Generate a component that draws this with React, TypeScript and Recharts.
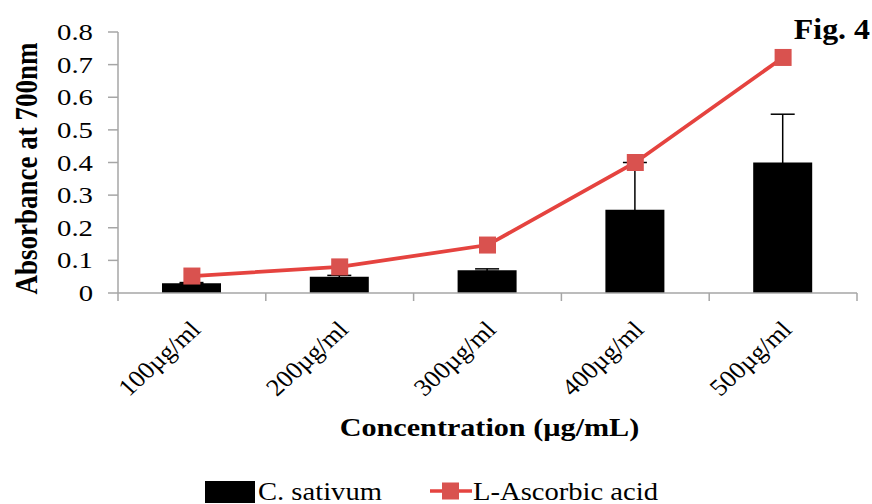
import React from 'react';
import { ComposedChart, Bar, Line, XAxis, YAxis, Legend, ErrorBar, Label, Customized } from 'recharts';

const concentrations = ['100µg/ml', '200µg/ml', '300µg/ml', '400µg/ml', '500µg/ml'];
const sativum = [0.03, 0.05, 0.07, 0.255, 0.4];
const sativumErr = [0.002, 0.004, 0.004, 0.145, 0.148];
const ascorbic = [0.052, 0.08, 0.147, 0.4, 0.722];
const yTicks = [0, 0.1, 0.2, 0.3, 0.4, 0.5, 0.6, 0.7, 0.8];

const data = concentrations.map((c, i) => ({
    conc: c,
    sativum: sativum[i],
    err: sativumErr[i],
    ascorbic: ascorbic[i],
}));

const W = 872;
const H = 504;
const MARGIN = { top: 32, right: 15, left: 0, bottom: 0 };
const Y_AXIS_W = 118;
const LEGEND_H = 30;
const X_AXIS_H = 181;
const BAND = (W - MARGIN.right - Y_AXIS_W) / concentrations.length;

const FONT = "'Liberation Serif', 'Times New Roman', serif";
const AXIS_GRAY = '#a6a6a6';
const LINE_RED = '#e5433f';
const MARKER_RED = '#d9524f';

// serif text with a horizontal stretch, the figure's type is noticeably wide
const SText = ({ x, y, size, bold = false, sx = 1, anchor = 'start', rotate = 0, children }: any) => (
    <text
        transform={`translate(${x},${y}) scale(${sx},1) rotate(${rotate})`}
        textAnchor={anchor}
        fontFamily={FONT}
        fontSize={size}
        fontWeight={bold ? 'bold' : 'normal'}
        fill="#000"
    >
        {children}
    </text>
);

const YTick = ({ x, y, payload }: any) => (
    <SText x={x - 13} y={y + 8} size={23} sx={1.25} anchor="end">
        {String(payload.value)}
    </SText>
);

// category ticks sit on the band edges, labels are slanted
const XTick = ({ x, y, payload, index }: any) => {
    const left = x - BAND / 2;
    const right = x + BAND / 2;
    return (
        <g>
            <line x1={left} x2={left} y1={y} y2={y + 8} stroke={AXIS_GRAY} strokeWidth={1.5} />
            {index === concentrations.length - 1 && (
                <line x1={right} x2={right} y1={y} y2={y + 8} stroke={AXIS_GRAY} strokeWidth={1.5} />
            )}
            <SText x={x + 10} y={y + 38} size={24} sx={1.1} anchor="end" rotate={-45}>
                {payload.value}
            </SText>
        </g>
    );
};

const SquareDot = ({ cx, cy, index }: any) => (
    <rect key={`dot-${index}`} x={cx - 8.5} y={cy - 8.5} width={17} height={17} fill={MARKER_RED} />
);

const LegendBox = () => (
    <svg width={W} height={LEGEND_H} style={{ overflow: 'visible', display: 'block' }}>
        <rect x={205} y={7} width={50} height={22} fill="#000" />
        <SText x={258} y={26} size={26} sx={1.1}>C. sativum</SText>
        <line x1={430} x2={472} y1={17} y2={17} stroke={LINE_RED} strokeWidth={3.5} />
        <rect x={442} y={8.5} width={17} height={17} fill={MARKER_RED} />
        <SText x={473} y={26} size={26} sx={1.1}>L-Ascorbic acid</SText>
    </svg>
);

const FigTag = () => (
    <SText x={870} y={39} size={29} bold sx={1.1} anchor="end">Fig. 4</SText>
);

export default function App() {
    return (
        <div style={{ position: 'absolute', left: 0, top: 0, background: '#fff' }}>
            <ComposedChart width={W} height={H} data={data} margin={MARGIN}>
                <XAxis
                    dataKey="conc"
                    height={X_AXIS_H}
                    stroke={AXIS_GRAY}
                    strokeWidth={1.5}
                    tickLine={false}
                    tickSize={0}
                    tickMargin={0}
                    tick={<XTick />}
                    interval={0}
                >
                    <Label
                        content={({ viewBox }: any) => (
                            <SText x={viewBox.x + viewBox.width / 2 + 2} y={viewBox.y + 143} size={26} bold sx={1.16} anchor="middle">
                                Concentration (µg/mL)
                            </SText>
                        )}
                    />
                </XAxis>
                <YAxis
                    width={Y_AXIS_W}
                    domain={[0, 0.8]}
                    ticks={yTicks}
                    stroke={AXIS_GRAY}
                    strokeWidth={1.5}
                    tickSize={10}
                    tick={<YTick />}
                >
                    <Label
                        content={({ viewBox }: any) => (
                            <SText x={viewBox.x + 37} y={viewBox.y + viewBox.height / 2 + 6} size={27} bold sx={1.15} anchor="middle" rotate={-90}>
                                Absorbance  at  700nm
                            </SText>
                        )}
                    />
                </YAxis>
                <Legend verticalAlign="bottom" height={LEGEND_H} wrapperStyle={{ left: 0, width: W }} content={<LegendBox />} />
                <Bar dataKey="sativum" name="C. sativum" fill="#000" barSize={59} isAnimationActive={false}>
                    <ErrorBar dataKey="err" direction="y" width={12} stroke="#000" strokeWidth={1.5} />
                </Bar>
                <Line
                    dataKey="ascorbic"
                    name="L-Ascorbic acid"
                    stroke={LINE_RED}
                    strokeWidth={3.8}
                    dot={<SquareDot />}
                    activeDot={false}
                    isAnimationActive={false}
                />
                <Customized component={FigTag} />
            </ComposedChart>
        </div>
    );
}
